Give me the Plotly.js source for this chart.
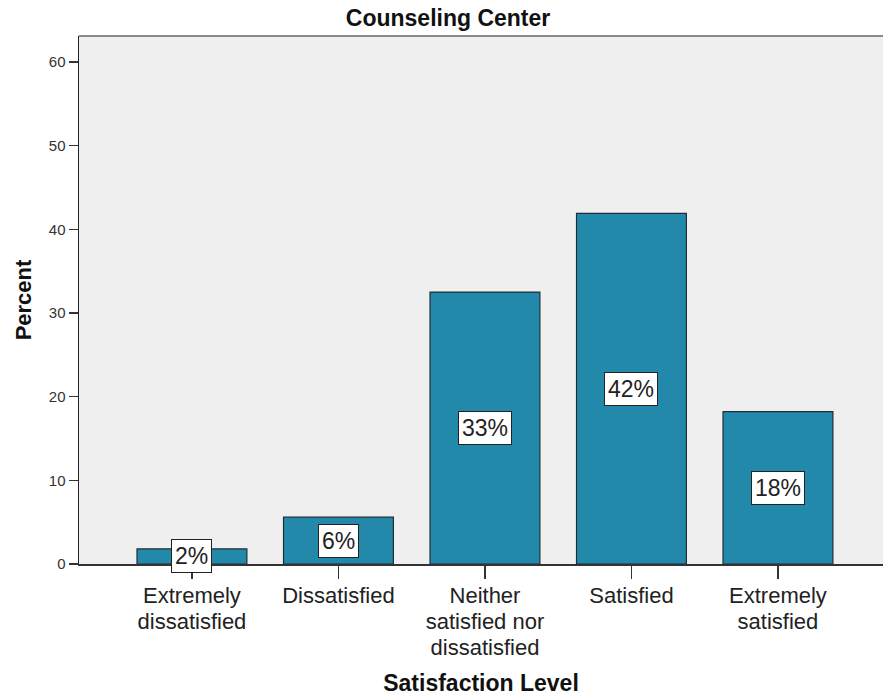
<!DOCTYPE html>
<html>
<head>
<meta charset="utf-8">
<script src="https://cdn.plot.ly/plotly-3.0.1.min.js"></script>
<style>html,body{margin:0;padding:0;background:#fff;}#chart{width:883px;height:698px;}</style>
</head>
<body>
<div id="chart"></div>
<script>
const categories = ["Extremely dissatisfied", "Dissatisfied", "Neither satisfied nor dissatisfied", "Satisfied", "Extremely satisfied"];
const tickLabels = ["Extremely<br>dissatisfied", "Dissatisfied", "Neither<br>satisfied nor<br>dissatisfied", "Satisfied", "Extremely<br>satisfied"];
const percents = [1.8, 5.6, 32.5, 41.9, 18.2];
const labels = ["2%", "6%", "33%", "42%", "18%"];
const yTicks = [0, 10, 20, 30, 40, 50, 60];

const FONT = "Arial, 'Liberation Sans', sans-serif";

const trace = {
  type: "bar",
  x: categories,
  y: percents,
  width: 0.75,
  marker: {color: "#2389ab", line: {color: "#1e2d36", width: 1.2}},
  hoverinfo: "none"
};

const annotations = categories.map((c, i) => ({
  x: c, y: percents[i] / 2, xref: "x", yref: "y",
  text: labels[i], showarrow: false,
  font: {family: FONT, size: 23, color: "#222"},
  bgcolor: "#ffffff", bordercolor: "#222", borderwidth: 1, borderpad: 3
}));

const layout = {
  width: 883, height: 698,
  margin: {l: 79, r: 0, t: 36, b: 134},
  paper_bgcolor: "#ffffff",
  plot_bgcolor: "#efefef",
  showlegend: false,
  title: {text: "<b>Counseling Center</b>", font: {family: FONT, size: 23, color: "#111"},
          x: 0.459, xref: "paper", xanchor: "center", y: 1 - 18 / 698, yref: "container", yanchor: "middle"},
  xaxis: {
    type: "category",
    range: [-0.771, 4.717],
    tickvals: categories,
    ticktext: tickLabels.map(t => '<span style="font-size:22px">' + t.split('<br>').join('</span><br><span style="font-size:22px">') + '</span>'),
    showgrid: false, zeroline: false,
    showline: true, linecolor: "#333", linewidth: 1.5,
    ticks: "outside", ticklen: 13, tickcolor: "#333", tickwidth: 1.5,
    tickfont: {family: FONT, size: 20, color: "#222"},
    title: {text: "<b>Satisfaction Level</b>", font: {family: FONT, size: 23, color: "#111"}, standoff: 16}
  },
  yaxis: {
    range: [0, 63.1],
    tickvals: yTicks,
    showgrid: false, zeroline: false,
    showline: true, linecolor: "#222", linewidth: 1.5,
    ticks: "outside", ticklen: 9, tickcolor: "#333", tickwidth: 1.5,
    tickfont: {family: FONT, size: 15, color: "#333"},
    title: {text: "<b>Percent</b>", font: {family: FONT, size: 22, color: "#111"}, standoff: 11}
  },
  shapes: [{type: "line", xref: "paper", yref: "paper", x0: 0, x1: 1, y0: 1, y1: 1,
            line: {color: "#8a8a8a", width: 2}}],
  annotations: annotations
};

Plotly.newPlot("chart", [trace], layout, {displayModeBar: false, staticPlot: true});
</script>
</body>
</html>
